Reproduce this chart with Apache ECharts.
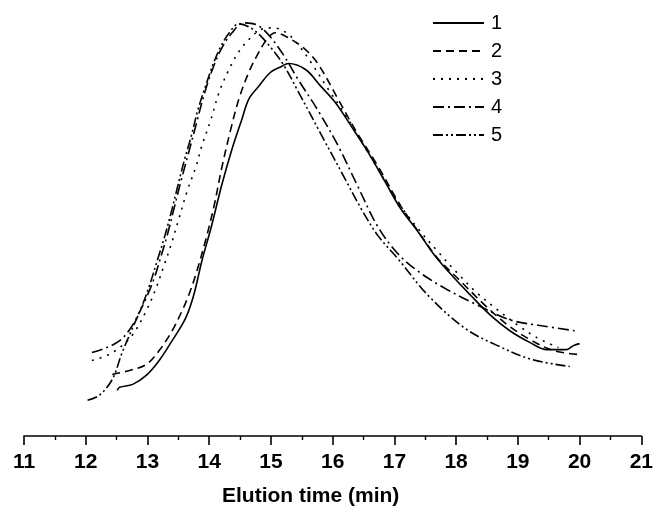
<!DOCTYPE html>
<html>
<head>
<meta charset="utf-8">
<script src="https://cdn.jsdelivr.net/npm/echarts@6/dist/echarts.min.js"></script>
<style>
html,body{margin:0;padding:0;background:#fff;}
#chart{width:656px;height:512px;}
</style>
</head>
<body>
<div id="chart"></div>
<script>
// Elution time (min) vs detector signal (arbitrary units)
const seriesNames = ['1', '2', '3', '4', '5'];
const xTicks = [11, 12, 13, 14, 15, 16, 17, 18, 19, 20, 21];

const curve1 = [[12.51,46],[12.55,49],[12.76,52],[12.98,61],[13.19,76],[13.40,96],[13.62,119],[13.75,142],[13.88,176],[14.04,212],[14.20,252],[14.37,289],[14.53,319],[14.64,339],[14.80,352],[14.99,366],[15.17,372],[15.28,375],[15.56,369],[15.81,352],[16.04,336],[16.30,312],[16.57,286],[16.85,256],[17.10,229],[17.38,206],[17.65,182],[17.97,159],[18.23,142],[18.55,122],[18.87,106],[19.20,94],[19.47,87],[19.79,87],[19.90,91],[20.00,93]];
const curve2 = [[12.43,62],[12.71,66],[12.98,72],[13.19,86],[13.40,106],[13.56,126],[13.67,142],[13.80,166],[13.95,199],[14.08,232],[14.20,269],[14.35,309],[14.48,339],[14.64,366],[14.80,386],[14.93,399],[15.07,406],[15.28,401],[15.56,389],[15.77,374],[16.09,339],[16.36,309],[16.73,272],[17.10,232],[17.43,202],[17.70,179],[18.07,156],[18.46,132],[18.83,112],[19.20,97],[19.58,86],[19.99,82]];
const curve3 = [[12.10,76],[12.34,81],[12.55,89],[12.76,102],[12.98,126],[13.14,149],[13.27,172],[13.38,192],[13.51,219],[13.64,246],[13.79,272],[13.88,292],[14.03,319],[14.16,346],[14.32,369],[14.48,387],[14.64,399],[14.83,409],[15.04,411],[15.25,406],[15.44,394],[15.64,377],[15.93,349],[16.20,324],[16.49,294],[16.78,264],[17.05,236],[17.38,209],[17.70,186],[18.02,164],[18.34,144],[18.67,127],[18.99,112],[19.31,99],[19.66,89]];
const curve4 = [[12.10,84],[12.34,89],[12.55,96],[12.71,107],[12.84,121],[12.98,139],[13.11,159],[13.22,181],[13.32,202],[13.43,229],[13.54,256],[13.67,286],[13.79,314],[13.91,342],[14.04,367],[14.19,389],[14.37,406],[14.56,416],[14.77,414],[14.96,404],[15.20,384],[15.44,359],[15.77,327],[16.09,292],[16.41,251],[16.73,211],[17.05,184],[17.38,166],[17.81,149],[18.34,132],[18.87,117],[19.39,111],[19.92,106]];
const curve5 = [[12.03,36],[12.22,41],[12.43,57],[12.59,84],[12.76,109],[12.90,129],[13.03,151],[13.16,177],[13.27,199],[13.38,224],[13.48,249],[13.59,276],[13.71,302],[13.82,329],[13.95,354],[14.08,377],[14.22,396],[14.40,412],[14.48,415],[14.72,409],[14.96,394],[15.20,374],[15.44,347],[15.81,304],[16.20,259],[16.46,229],[16.73,202],[17.05,179],[17.54,142],[18.13,109],[18.67,91],[19.23,77],[19.84,70]];

const curves = [curve1, curve2, curve3, curve4, curve5];
const dashes = ['solid', [8, 5], [2, 6], [11, 4, 2, 4], [10, 3, 2, 3, 2, 3]];

const chart = echarts.init(document.getElementById('chart'), null, {renderer: 'canvas'});
chart.setOption({
  animation: false,
  backgroundColor: '#fff',
  grid: {left: 24, right: 11, top: 0, bottom: 73, containLabel: false},
  legend: {
    orient: 'vertical',
    left: 432,
    top: 13,
    padding: 0,
    itemWidth: 51,
    itemHeight: 14,
    itemGap: 8,
    data: seriesNames,
    itemStyle: {opacity: 0},
    textStyle: {fontFamily: 'Liberation Sans, Arial, sans-serif', fontSize: 20, color: '#000', padding: [0, 0, 0, 2]}
  },
  xAxis: {
    type: 'value',
    min: xTicks[0],
    max: xTicks[xTicks.length - 1],
    interval: 1,
    name: 'Elution time (min)',
    nameLocation: 'middle',
    nameGap: 50,
    nameTextStyle: {fontFamily: 'Liberation Sans, Arial, sans-serif', fontSize: 21, fontWeight: 'bold', color: '#000', padding: [0, 44, 0, 0]},
    axisLine: {show: true, lineStyle: {color: '#000', width: 1.6}},
    axisTick: {show: true, length: 9, lineStyle: {color: '#000', width: 1.6}},
    minorTick: {show: true, splitNumber: 2, length: 4, lineStyle: {color: '#000', width: 1.4}},
    axisLabel: {margin: 16, fontFamily: 'Liberation Sans, Arial, sans-serif', fontSize: 21, fontWeight: 'bold', color: '#000', showMinLabel: true, showMaxLabel: true},
    splitLine: {show: false}
  },
  yAxis: {
    type: 'value', min: 0, max: 439, show: false,
    axisLine: {show: false}, splitLine: {show: false}
  },
  series: curves.map((d, i) => ({
    name: seriesNames[i],
    type: 'line',
    data: d,
    smooth: 0.35,
    symbol: 'none',
    showSymbol: false,
    clip: false,
    itemStyle: {color: '#000'},
    lineStyle: {color: '#000', width: 1.6, type: dashes[i]}
  }))
});
</script>
</body>
</html>
